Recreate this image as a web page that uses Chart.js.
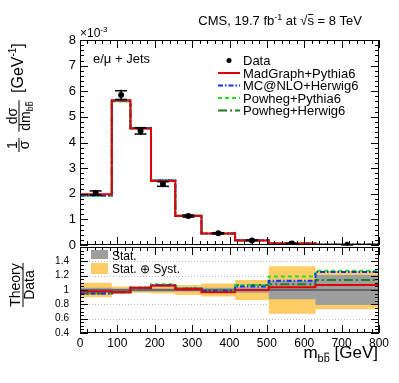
<!DOCTYPE html>
<html>
<head>
<meta charset="utf-8">
<script src="https://cdn.jsdelivr.net/npm/chart.js@4.4.0/dist/chart.umd.min.js"></script>
<style>
html, body { margin: 0; padding: 0; background: #fff; }
#wrap { position: relative; width: 399px; height: 383px; }
#top { position: absolute; left: 0; top: 0; }
#ratio { position: absolute; left: 0; top: 230px; }
</style>
</head>
<body>
<div id="wrap">
<canvas id="top" width="399" height="262"></canvas>
<canvas id="ratio" width="399" height="153"></canvas>
</div>
<script>
// bins of m_bb (GeV)
const binEdges = [0, 85, 135, 190, 255, 325, 415, 505, 630, 800];
const binCenters = [42, 110, 162, 222, 290, 370, 460, 567, 715];
const xTicks = [0, 100, 200, 300, 400, 500, 600, 700, 800];

// normalised cross section, units of 1e-3 GeV^-1
const dataY = [2.03, 5.85, 4.45, 2.38, 1.13, 0.46, 0.18, 0.055, 0.012];
const dataErr = [0.08, 0.17, 0.12, 0.09, 0.04, 0.02, 0.012, 0.006, 0.003];
const madgraph = [1.98, 5.65, 4.55, 2.50, 1.13, 0.45, 0.18, 0.056, 0.013];
const mcnlo = [1.93, 5.63, 4.56, 2.53, 1.14, 0.45, 0.19, 0.061, 0.015];
const powhegPythia = [1.92, 5.60, 4.58, 2.53, 1.14, 0.45, 0.19, 0.064, 0.015];
const powhegHerwig = [1.93, 5.62, 4.56, 2.52, 1.14, 0.45, 0.19, 0.058, 0.014];

// theory / data
const dataRatio = [1, 1, 1, 1, 1, 1, 1, 1, 1];
const ratioMadgraph = [0.98, 0.97, 1.03, 1.06, 1.01, 0.97, 1.00, 1.04, 1.07];
const ratioMcnlo = [0.95, 0.97, 1.03, 1.07, 1.02, 0.99, 1.05, 1.13, 1.25];
const ratioPowhegPythia = [0.95, 0.97, 1.03, 1.08, 1.02, 0.99, 1.07, 1.19, 1.27];
const ratioPowhegHerwig = [0.95, 0.97, 1.03, 1.07, 1.02, 0.99, 1.07, 1.08, 1.14];
const statErr = [0.03, 0.02, 0.02, 0.02, 0.02, 0.03, 0.04, 0.13, 0.21];
const totErr = [0.10, 0.05, 0.04, 0.05, 0.07, 0.09, 0.14, 0.33, 0.27];
const ratioTicks = [0.4, 0.6, 0.8, 1, 1.2, 1.4];
const ratioGrid = [0.6, 0.8, 1.2, 1.4];

const FONT = '"Liberation Sans", Arial, sans-serif';
const f = s => s + 'px ' + FONT;

const RED = '#e00000', BLUE = '#1030ff', LGREEN = '#22e022', DGREEN = '#1f7f1f';
const series = [
    {label: 'MadGraph+Pythia6', top: madgraph, ratio: ratioMadgraph, color: RED, dash: []},
    {label: 'MC@NLO+Herwig6', top: mcnlo, ratio: ratioMcnlo, color: BLUE, dash: [5, 2, 1.5, 2]},
    {label: 'Powheg+Pythia6', top: powhegPythia, ratio: ratioPowhegPythia, color: LGREEN, dash: [4, 3]},
    {label: 'Powheg+Herwig6', top: powhegHerwig, ratio: ratioPowhegHerwig, color: DGREEN, dash: [9, 3, 2, 3]}
];

// step points: value held from left edge to next edge
function steps(vals) {
    const pts = vals.map((v, i) => ({x: binEdges[i], y: v}));
    pts.push({x: binEdges[binEdges.length - 1], y: vals[vals.length - 1]});
    return pts;
}

// text with sub/superscripts
function rich(ctx, parts, x, y, align) {
    let w = 0;
    parts.forEach(p => { ctx.font = f(p.s); p.w = ctx.measureText(p.t).width; w += p.w; });
    let cx = align === 'right' ? x - w : align === 'center' ? x - w / 2 : x;
    ctx.textAlign = 'left';
    ctx.textBaseline = 'alphabetic';
    parts.forEach(p => {
        ctx.font = f(p.s);
        const yy = y + (p.dy || 0);
        ctx.fillText(p.t, cx, yy);
        if (p.bar) ctx.fillRect(cx + p.w * 0.1, yy - p.s * 0.85, p.w * 0.8, 1);
        cx += p.w;
    });
    return w;
}

function line(ctx, x1, y1, x2, y2) {
    ctx.beginPath(); ctx.moveTo(x1, y1); ctx.lineTo(x2, y2); ctx.stroke();
}

// frame + inner ticks on all four sides
function frame(chart, yFrom, yStep, yCount, yMajorEvery) {
    const {ctx, chartArea: a, scales: {x, y}} = chart;
    ctx.save();
    ctx.strokeStyle = '#000';
    ctx.lineWidth = 1;
    ctx.strokeRect(Math.round(a.left) + 0.5, Math.round(a.top) + 0.5,
        Math.round(a.right - a.left) - 1, Math.round(a.bottom - a.top) - 1);
    for (let i = 0; i <= 40; i++) {
        const px = Math.round(x.getPixelForValue(i * 20)) + 0.5;
        const len = i % 5 === 0 ? 8 : 4;
        line(ctx, px, a.bottom, px, a.bottom - len);
        line(ctx, px, a.top, px, a.top + len);
    }
    for (let i = 0; i <= yCount; i++) {
        const py = Math.round(y.getPixelForValue(yFrom + i * yStep)) + 0.5;
        const len = i % yMajorEvery === 0 ? 8 : 4;
        line(ctx, a.left, py, a.left + len, py);
        line(ctx, a.right, py, a.right - len, py);
    }
    ctx.restore();
}

// nudge layout padding until the plot area sits where wanted
function pin(chart, wantTop, wantBottom) {
    for (let k = 0; k < 6; k++) {
        const a = chart.chartArea;
        const p = chart.options.layout.padding;
        const dt = wantTop - a.top, db = a.bottom - wantBottom;
        if (Math.abs(dt) < 0.5 && Math.abs(db) < 0.5) break;
        p.top += dt;
        p.bottom += db;
        chart.update('none');
    }
}

const topPlugin = {
    id: 'topDecor',
    afterDatasetsDraw(chart) {
        const {ctx, scales: {x, y}} = chart;
        ctx.save();
        ctx.strokeStyle = '#000';
        ctx.lineWidth = 1.5;
        binCenters.forEach((c, i) => {
            const px = x.getPixelForValue(c);
            const hi = y.getPixelForValue(dataY[i] + dataErr[i]);
            const lo = y.getPixelForValue(dataY[i] - dataErr[i]);
            line(ctx, px, hi - 1, px, lo + 1);
            line(ctx, px - 6, hi, px + 6, hi);
            line(ctx, px - 6, lo, px + 6, lo);
        });
        ctx.restore();
    },
    afterDraw(chart) {
        const {ctx} = chart;
        frame(chart, 0, 0.2, 40, 5);
        ctx.save();
        ctx.fillStyle = '#000';
        rich(ctx, [{t: 'CMS, 19.7 fb', s: 13}, {t: '-1', s: 9, dy: -5}, {t: ' at ', s: 13},
            {t: '\u221A', s: 13}, {t: 's', s: 13, bar: true}, {t: ' = 8 TeV', s: 13}], 362, 25, 'right');
        rich(ctx, [{t: '\u00D710', s: 12}, {t: '-3', s: 8, dy: -5}], 80, 37, 'left');
        rich(ctx, [{t: 'e/\u03BC + Jets', s: 13}], 93, 63, 'left');

        // legend
        const rows = [65, 77.5, 90, 102.5, 115];
        ctx.beginPath();
        ctx.arc(229, rows[0] - 4.5, 2.5, 0, Math.PI * 2);
        ctx.fill();
        rich(ctx, [{t: 'Data', s: 13}], 243, rows[0], 'left');
        series.forEach((s, i) => {
            const ry = rows[i + 1] - 4.5;
            ctx.strokeStyle = s.color;
            ctx.lineWidth = 2;
            ctx.setLineDash(s.dash);
            line(ctx, 218, ry, 240, ry);
            ctx.setLineDash([]);
            rich(ctx, [{t: s.label, s: 13}], 243, rows[i + 1], 'left');
        });

        // y title (rotated)
        ctx.translate(19, 153);
        ctx.rotate(-Math.PI / 2);
        rich(ctx, [{t: '1', s: 14}], 8, -2, 'center');
        rich(ctx, [{t: '\u03C3', s: 14}], 8, 10, 'center');
        ctx.fillRect(1, -0.5, 14, 1);
        rich(ctx, [{t: 'd\u03C3', s: 14}], 37, -2, 'center');
        const w = rich(ctx, [{t: 'dm', s: 14}, {t: 'b', s: 9, dy: 3}, {t: 'b', s: 9, dy: 3, bar: true}], 37, 11, 'center');
        ctx.fillRect(37 - w / 2 - 1, -0.5, w + 2, 1);
        rich(ctx, [{t: '[GeV', s: 16}, {t: '-1', s: 10, dy: -7}, {t: ']', s: 16}], 60, 4, 'left');
        ctx.restore();
    }
};

// ratio canvas starts at page y = 230
const RY = 230;
const ratioPlugin = {
    id: 'ratioDecor',
    beforeDatasetsDraw(chart) {
        const {ctx, chartArea: a, scales: {y}} = chart;
        ctx.save();
        ctx.strokeStyle = '#bbbbbb';
        ctx.lineWidth = 1;
        ctx.setLineDash([1, 2]);
        ratioGrid.forEach(v => {
            const py = Math.round(y.getPixelForValue(v)) + 0.5;
            line(ctx, a.left, py, a.right, py);
        });
        ctx.restore();
    },
    afterDraw(chart) {
        const {ctx} = chart;
        frame(chart, 0.4, 0.05, 24, 4);
        ctx.save();
        ctx.fillStyle = '#9e9e9e';
        ctx.fillRect(91, 250 - RY, 17, 9);
        ctx.fillStyle = '#ffcc66';
        ctx.fillRect(91, 263 - RY, 17, 11);
        ctx.fillStyle = '#000';
        rich(ctx, [{t: 'Stat.', s: 12}], 112, 260 - RY, 'left');
        rich(ctx, [{t: 'Stat. \u2295 Syst.', s: 12}], 112, 273 - RY, 'left');
        rich(ctx, [{t: 'm', s: 17}, {t: 'b', s: 11, dy: 4}, {t: 'b', s: 11, dy: 4, bar: true}, {t: ' [GeV]', s: 17}], 378, 358 - RY, 'right');
        ctx.translate(23, 285 - RY);
        ctx.rotate(-Math.PI / 2);
        rich(ctx, [{t: 'Theory', s: 14}], 0, -3.5, 'center');
        rich(ctx, [{t: 'Data', s: 14}], 0, 11, 'center');
        ctx.fillRect(-22, -0.5, 44, 1);
        ctx.restore();
    }
};

const common = {
    responsive: false,
    animation: false,
    devicePixelRatio: 1,
    plugins: {legend: {display: false}, tooltip: {enabled: false}},
    elements: {point: {radius: 0}, line: {tension: 0}}
};

const topChart = new Chart(document.getElementById('top'), {
    type: 'line',
    data: {
        datasets: [{
            data: binCenters.map((c, i) => ({x: c, y: dataY[i]})),
            showLine: false,
            pointRadius: 3,
            pointBackgroundColor: '#000',
            pointBorderWidth: 0,
            order: 0
        }].concat(series.map((s, i) => ({
            data: steps(s.top),
            stepped: 'before',
            borderColor: s.color,
            borderWidth: 2,
            borderDash: s.dash,
            fill: false,
            order: i + 1
        })))
    },
    options: Object.assign({}, common, {
        layout: {padding: {top: 40, bottom: 17, left: 0, right: 20}},
        scales: {
            x: {type: 'linear', min: 0, max: 800, display: false},
            y: {
                min: 0, max: 8,
                afterFit: s => { s.width = 80; },
                grid: {display: false, drawTicks: false},
                border: {display: false},
                ticks: {stepSize: 1, padding: 4, autoSkip: false, color: '#000', font: {family: FONT, size: 13}}
            }
        }
    }),
    plugins: [topPlugin]
});

const ratioChart = new Chart(document.getElementById('ratio'), {
    type: 'line',
    data: {
        datasets: [
            {data: steps(totErr.map(e => 1 + e)), stepped: 'before', borderWidth: 0, fill: false, order: 10},
            {data: steps(totErr.map(e => 1 - e)), stepped: 'before', borderWidth: 0, fill: '-1', backgroundColor: '#ffcc66', order: 10},
            {data: steps(statErr.map(e => 1 + e)), stepped: 'before', borderWidth: 0, fill: false, order: 9},
            {data: steps(statErr.map(e => 1 - e)), stepped: 'before', borderWidth: 0, fill: '-1', backgroundColor: '#9e9e9e', order: 9},
            {data: steps(dataRatio), stepped: 'before', borderColor: '#333', borderWidth: 1, fill: false, order: 5}
        ].concat(series.map((s, i) => ({
            data: steps(s.ratio),
            stepped: 'before',
            borderColor: s.color,
            borderWidth: 2,
            borderDash: s.dash,
            fill: false,
            order: i + 1
        })))
    },
    options: Object.assign({}, common, {
        layout: {padding: {top: 15, bottom: 0, left: 0, right: 20}},
        scales: {
            x: {
                type: 'linear', min: 0, max: 800,
                afterFit: s => { s.height = 50; },
                afterBuildTicks: s => { s.ticks = xTicks.map(v => ({value: v})); },
                grid: {display: false, drawTicks: false},
                border: {display: false},
                ticks: {padding: 3, color: '#000', maxRotation: 0, autoSkip: false, font: {family: FONT, size: 12}}
            },
            y: {
                min: 0.4, max: 1.6,
                afterFit: s => { s.width = 80; },
                afterBuildTicks: s => { s.ticks = ratioTicks.map(v => ({value: v})); },
                grid: {display: false, drawTicks: false},
                border: {display: false},
                ticks: {
                    padding: 11, autoSkip: false, color: '#000', font: {family: FONT, size: 10},
                    callback: v => String(+v.toFixed(1))
                }
            }
        }
    }),
    plugins: [ratioPlugin]
});

pin(topChart, 40, 245);
pin(ratioChart, 245 - RY, 333 - RY);
</script>
</body>
</html>
